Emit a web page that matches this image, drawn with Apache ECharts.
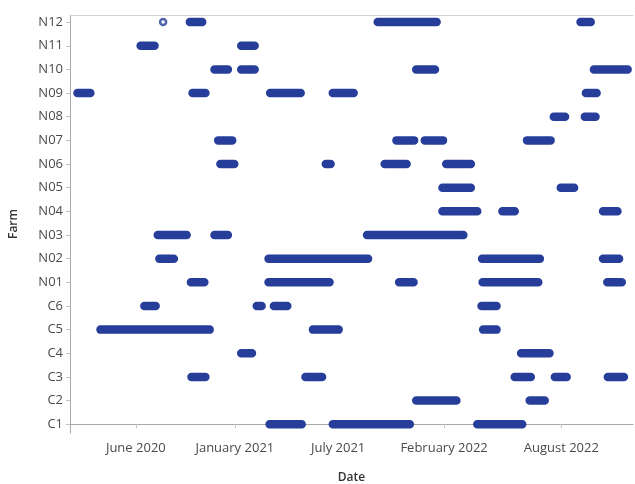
<!DOCTYPE html>
<html>
<head>
<meta charset="utf-8">
<title>Farm visits by date</title>
<script src="https://cdn.jsdelivr.net/npm/echarts@6/dist/echarts.min.js"></script>
<style>
  html, body { margin: 0; padding: 0; background: #ffffff; }
  #chart { width: 635px; height: 484px; }
</style>
</head>
<body>
<div id="chart"></div>
<script>
// Farms, bottom to top on the vertical axis
const farms = ['C1', 'C2', 'C3', 'C4', 'C5', 'C6', 'N01', 'N02', 'N03', 'N04', 'N05', 'N06', 'N07', 'N08', 'N09', 'N10', 'N11', 'N12'];

// Sampling periods per farm: [first day, last day]
const C1  = [['2021-02-21', '2021-04-22'], ['2021-06-19', '2021-11-10'], ['2022-03-16', '2022-06-08']];
const C2  = [['2021-11-22', '2022-02-05'], ['2022-06-22', '2022-07-20']];
const C3  = [['2020-09-28', '2020-10-24'], ['2021-04-29', '2021-05-30'], ['2022-05-25', '2022-06-24'], ['2022-08-08', '2022-08-30'], ['2022-11-15', '2022-12-15']];
const C4  = [['2020-12-30', '2021-01-19'], ['2022-06-06', '2022-07-29']];
const C5  = [['2020-04-11', '2020-11-01'], ['2021-05-13', '2021-06-30'], ['2022-03-27', '2022-04-21']];
const C6  = [['2020-07-02', '2020-07-23'], ['2021-01-28', '2021-02-06'], ['2021-03-01', '2021-03-26'], ['2022-03-24', '2022-04-21']];
const N01 = [['2020-09-27', '2020-10-22'], ['2021-02-19', '2021-06-13'], ['2021-10-21', '2021-11-17'], ['2022-03-26', '2022-07-08'], ['2022-11-14', '2022-12-11']];
const N02 = [['2020-07-30', '2020-08-26'], ['2021-02-19', '2021-08-24'], ['2022-03-25', '2022-07-11'], ['2022-11-06', '2022-12-06']];
const N03 = [['2020-07-27', '2020-09-19'], ['2020-11-10', '2020-12-05'], ['2021-08-22', '2022-02-18']];
const N04 = [['2022-01-10', '2022-03-16'], ['2022-05-02', '2022-05-25'], ['2022-11-06', '2022-12-03']];
const N05 = [['2022-01-10', '2022-03-04'], ['2022-08-19', '2022-09-13']];
const N06 = [['2020-11-21', '2020-12-17'], ['2021-06-06', '2021-06-15'], ['2021-09-24', '2021-11-04'], ['2022-01-17', '2022-03-04']];
const N07 = [['2020-11-17', '2020-12-13'], ['2021-10-16', '2021-11-18'], ['2021-12-08', '2022-01-11'], ['2022-06-17', '2022-07-31']];
const N08 = [['2022-08-06', '2022-08-27'], ['2022-10-03', '2022-10-23']];
const N09 = [['2020-02-28', '2020-03-23'], ['2020-09-30', '2020-10-24'], ['2021-02-22', '2021-04-20'], ['2021-06-19', '2021-07-28'], ['2022-10-05', '2022-10-25']];
const N10 = [['2020-11-10', '2020-12-05'], ['2020-12-30', '2021-01-24'], ['2021-11-22', '2021-12-27'], ['2022-10-20', '2022-12-22']];
const N11 = [['2020-06-25', '2020-07-21'], ['2020-12-30', '2021-01-24']];
const N12 = [['2020-08-06', '2020-08-06'], ['2020-09-25', '2020-10-18'], ['2021-09-11', '2021-12-30'], ['2022-09-25', '2022-10-14']];

// Date axis ticks and their labels
const tickDates  = ['2020-06-16', '2020-12-18', '2021-06-29', '2022-01-13', '2022-08-20'];
const tickLabels = ['June 2020', 'January 2021', 'July 2021', 'February 2022', 'August 2022'];
const dateMin = '2020-02-14';
const dateMax = '2023-01-01';

const visits = [C1, C2, C3, C4, C5, C6, N01, N02, N03, N04, N05, N06, N07, N08, N09, N10, N11, N12];

// Day number (days since 1970-01-01) of a YYYY-MM-DD string
function toDay(s) {
  const p = s.split('-').map(Number);
  return Math.round(Date.UTC(p[0], p[1] - 1, p[2]) / 86400000);
}

const tickDays = tickDates.map(toDay);
function dateLabel(v) {
  let best = 0;
  tickDays.forEach((t, i) => { if (Math.abs(t - v) < Math.abs(tickDays[best] - v)) best = i; });
  return tickLabels[best];
}

// Multi-day periods become thick round-capped runs; single days are open circles
const runData = [];
const dayData = [];
visits.forEach((periods, i) => {
  periods.forEach(([s, e]) => {
    if (s === e) {
      dayData.push([toDay(s), i]);
    } else {
      runData.push([toDay(s), i], [toDay(e), i], ['-', '-']);
    }
  });
});

const farmIndex = farms.map((_, i) => i);
const markColor = '#263e9a';
const axisColor = '#a8a8a8';
const textStyle = { color: '#4a4a4a', fontSize: 13, fontFamily: 'Open Sans' };

const chart = echarts.init(document.getElementById('chart'), null, { renderer: 'canvas' });
chart.setOption({
  backgroundColor: '#ffffff',
  animation: false,
  grid: { left: 70, right: 2, top: 15, bottom: 51, containLabel: false, outerBoundsMode: 'none' },
  xAxis: [
    {
      type: 'value',
      min: toDay(dateMin),
      max: toDay(dateMax),
      axisLine: { show: true, lineStyle: { color: axisColor, width: 1 } },
      axisTick: { show: true, customValues: tickDays, length: 4, lineStyle: { color: '#c4c4c4' } },
      axisLabel: Object.assign({ customValues: tickDays, formatter: dateLabel, margin: 9 }, textStyle),
      splitLine: { show: false },
      name: 'Date',
      nameLocation: 'middle',
      nameGap: 39,
      nameTextStyle: { color: '#333333', fontSize: 12, fontWeight: 600, fontFamily: 'Open Sans' }
    },
    {
      type: 'value',
      position: 'top',
      min: toDay(dateMin),
      max: toDay(dateMax),
      axisLine: { show: true, lineStyle: { color: '#d2d2d2', width: 1 } },
      axisTick: { show: false },
      axisLabel: { show: false },
      splitLine: { show: false }
    }
  ],
  yAxis: {
    type: 'value',
    min: -0.37,
    max: 17.3,
    axisLine: { show: true, lineStyle: { color: axisColor, width: 1 } },
    axisTick: { show: true, customValues: farmIndex, length: 4, lineStyle: { color: '#c4c4c4' } },
    axisLabel: Object.assign({ customValues: farmIndex, formatter: v => farms[Math.round(v)], margin: 7 }, textStyle),
    splitLine: { show: false },
    name: 'Farm',
    nameLocation: 'middle',
    nameGap: 50,
    nameTextStyle: { color: '#333333', fontSize: 12, fontWeight: 600, fontFamily: 'Open Sans' }
  },
  series: [
    {
      type: 'line',
      xAxisIndex: 0,
      data: runData,
      symbol: 'none',
      connectNulls: false,
      lineStyle: { color: markColor, width: 8.5, cap: 'round', join: 'round' },
      silent: true
    },
    {
      type: 'scatter',
      xAxisIndex: 0,
      data: dayData,
      symbol: 'circle',
      symbolSize: 6,
      itemStyle: { color: '#ffffff', borderColor: markColor, borderWidth: 2.5 },
      silent: true
    }
  ]
});
</script>
</body>
</html>
